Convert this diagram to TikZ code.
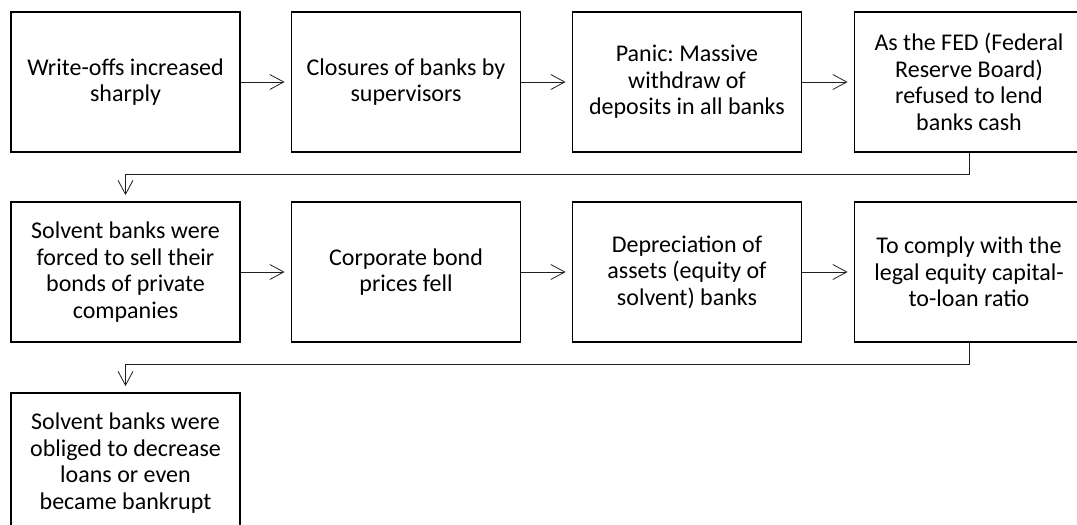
\documentclass[tikz,border=0pt]{standalone}
\usepackage{fontspec}
\setmainfont{Carlito}
\usetikzlibrary{arrows.meta}
\definecolor{ink}{HTML}{000000}
\definecolor{wire}{HTML}{202020}

\begin{document}
\begin{tikzpicture}[x=1pt,y=-1pt,
  stage/.style={draw=ink,line width=1.8pt,minimum width=229pt,minimum height=140pt,
    align=center,inner sep=4pt,font=\fontsize{24}{26.5}\selectfont\frenchspacing},
  flow/.style={draw=wire,line width=0.8pt,shorten >=6pt,
    -{Straight Barb[length=14pt,width=15pt,line width=0.8pt]}}]
  \useasboundingbox (0,0) rectangle (1077,525);
  \node[stage] (write) at (125.5,82) {Write-offs increased\\sharply};
  \node[stage] (close) at (406,82) {Closures of banks by\\supervisors};
  \node[stage] (panic) at (687,82) {Panic: Massive\\withdraw of\\deposits in all banks};
  \node[stage] (fed) at (969,82) {As the FED (Federal\\Reserve Board)\\refused to lend\\banks cash};
  \node[stage] (sell) at (125.5,272) {Solvent banks were\\forced to sell their\\bonds of private\\companies};
  \node[stage] (bond) at (406,272) {Corporate bond\\prices fell};
  \node[stage] (deprec) at (687,272) {Depreciation of\\assets (equity of\\solvent) banks};
  \node[stage] (comply) at (969,272) {To comply with the\\legal equity capital-\\to-loan ratio};
  \node[stage] (loans) at (125.5,463) {Solvent banks were\\obliged to decrease\\loans or even\\became bankrupt};
  \draw[flow] (write) -- (close);
  \draw[flow] (close) -- (panic);
  \draw[flow] (panic) -- (fed);
  \draw[flow] (fed.south) -- ++(0,21) -| (sell.north);
  \draw[flow] (sell) -- (bond);
  \draw[flow] (bond) -- (deprec);
  \draw[flow] (deprec) -- (comply);
  \draw[flow] (comply.south) -- ++(0,21) -| (loans.north);
\end{tikzpicture}
\end{document}
